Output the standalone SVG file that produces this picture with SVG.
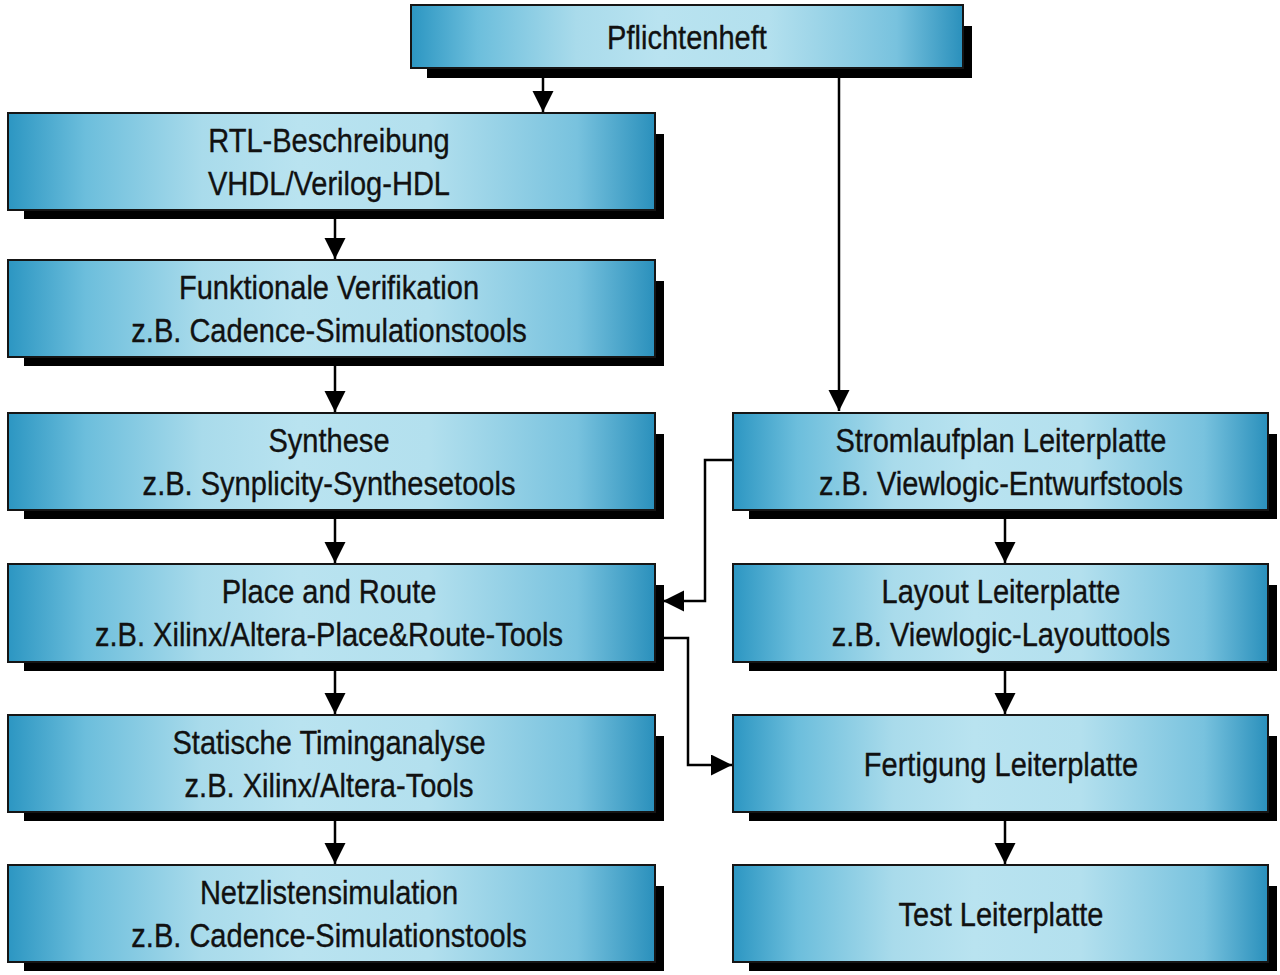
<svg xmlns="http://www.w3.org/2000/svg" width="1280" height="975" viewBox="0 0 1280 975">
<defs>
<linearGradient id="g" x1="0" y1="0" x2="1" y2="0">
<stop offset="0" stop-color="#2c96c2"/>
<stop offset="0.12" stop-color="#6cbedc"/>
<stop offset="0.3" stop-color="#a9dbeb"/>
<stop offset="0.45" stop-color="#b9e3f0"/>
<stop offset="0.65" stop-color="#b3e0ee"/>
<stop offset="0.88" stop-color="#78c2de"/>
<stop offset="1" stop-color="#2a90bc"/>
</linearGradient>
<marker id="ah" markerUnits="userSpaceOnUse" markerWidth="22" markerHeight="22" refX="21" refY="10.5" orient="auto">
<path d="M0,0 L21,10.5 L0,21 z" fill="#000"/>
</marker>
</defs>
<style>
.sh{fill:#000}
.bx{fill:url(#g);stroke:#151515;stroke-width:2}
.t{font-family:"Liberation Sans",Arial,sans-serif;font-size:33px;fill:#111;stroke:#111;stroke-width:0.35;text-anchor:middle}
.c{fill:none;stroke:#000;stroke-width:2.5;marker-end:url(#ah)}
</style>
<rect width="1280" height="975" fill="#fff"/>

<g id="connectors">
<path class="c" d="M543,77 V112"/>
<path class="c" d="M839,77 V411"/>
<path class="c" d="M335,218 V259"/>
<path class="c" d="M335,366 V412"/>
<path class="c" d="M335,519 V563"/>
<path class="c" d="M335,671 V714"/>
<path class="c" d="M335,821 V864"/>
<path class="c" d="M1005,519 V563"/>
<path class="c" d="M1005,671 V714"/>
<path class="c" d="M1005,821 V864"/>
<path class="c" d="M733,460 H705 V601 H663"/>
<path class="c" d="M663,638 H688 V765 H732"/>
</g>

<g id="pflichtenheft">
<rect class="sh" x="427" y="26" width="545" height="52"/>
<rect class="bx" x="411" y="5" width="552" height="63"/>
<text class="t" transform="translate(687,49) scale(0.88,1)">Pflichtenheft</text>
</g>

<g id="rtl">
<rect class="sh" x="24" y="134" width="640" height="85"/>
<rect class="bx" x="8" y="113" width="647" height="97"/>
<text class="t" transform="translate(329,152) scale(0.88,1)">RTL-Beschreibung</text>
<text class="t" transform="translate(329,195) scale(0.88,1)">VHDL/Verilog-HDL</text>
</g>

<g id="funktionale">
<rect class="sh" x="24" y="281" width="640" height="85"/>
<rect class="bx" x="8" y="260" width="647" height="97"/>
<text class="t" transform="translate(329,299) scale(0.88,1)">Funktionale Verifikation</text>
<text class="t" transform="translate(329,342) scale(0.88,1)">z.B. Cadence-Simulationstools</text>
</g>

<g id="synthese">
<rect class="sh" x="24" y="434" width="640" height="85"/>
<rect class="bx" x="8" y="413" width="647" height="97"/>
<text class="t" transform="translate(329,452) scale(0.88,1)">Synthese</text>
<text class="t" transform="translate(329,495) scale(0.88,1)">z.B. Synplicity-Synthesetools</text>
</g>

<g id="placeroute">
<rect class="sh" x="24" y="585" width="640" height="86"/>
<rect class="bx" x="8" y="564" width="647" height="98"/>
<text class="t" transform="translate(329,603) scale(0.88,1)">Place and Route</text>
<text class="t" transform="translate(329,646) scale(0.88,1)">z.B. Xilinx/Altera-Place&amp;Route-Tools</text>
</g>

<g id="timing">
<rect class="sh" x="24" y="736" width="640" height="85"/>
<rect class="bx" x="8" y="715" width="647" height="97"/>
<text class="t" transform="translate(329,754) scale(0.88,1)">Statische Timinganalyse</text>
<text class="t" transform="translate(329,797) scale(0.88,1)">z.B. Xilinx/Altera-Tools</text>
</g>

<g id="netzliste">
<rect class="sh" x="24" y="886" width="640" height="85"/>
<rect class="bx" x="8" y="865" width="647" height="97"/>
<text class="t" transform="translate(329,904) scale(0.88,1)">Netzlistensimulation</text>
<text class="t" transform="translate(329,947) scale(0.88,1)">z.B. Cadence-Simulationstools</text>
</g>

<g id="stromlaufplan">
<rect class="sh" x="749" y="434" width="528" height="85"/>
<rect class="bx" x="733" y="413" width="535" height="97"/>
<text class="t" transform="translate(1001,452) scale(0.88,1)">Stromlaufplan Leiterplatte</text>
<text class="t" transform="translate(1001,495) scale(0.88,1)">z.B. Viewlogic-Entwurfstools</text>
</g>

<g id="layout">
<rect class="sh" x="749" y="585" width="528" height="86"/>
<rect class="bx" x="733" y="564" width="535" height="98"/>
<text class="t" transform="translate(1001,603) scale(0.88,1)">Layout Leiterplatte</text>
<text class="t" transform="translate(1001,646) scale(0.88,1)">z.B. Viewlogic-Layouttools</text>
</g>

<g id="fertigung">
<rect class="sh" x="749" y="736" width="528" height="85"/>
<rect class="bx" x="733" y="715" width="535" height="97"/>
<text class="t" transform="translate(1001,776) scale(0.88,1)">Fertigung Leiterplatte</text>
</g>

<g id="test">
<rect class="sh" x="749" y="886" width="528" height="85"/>
<rect class="bx" x="733" y="865" width="535" height="97"/>
<text class="t" transform="translate(1001,926) scale(0.88,1)">Test Leiterplatte</text>
</g>
</svg>
